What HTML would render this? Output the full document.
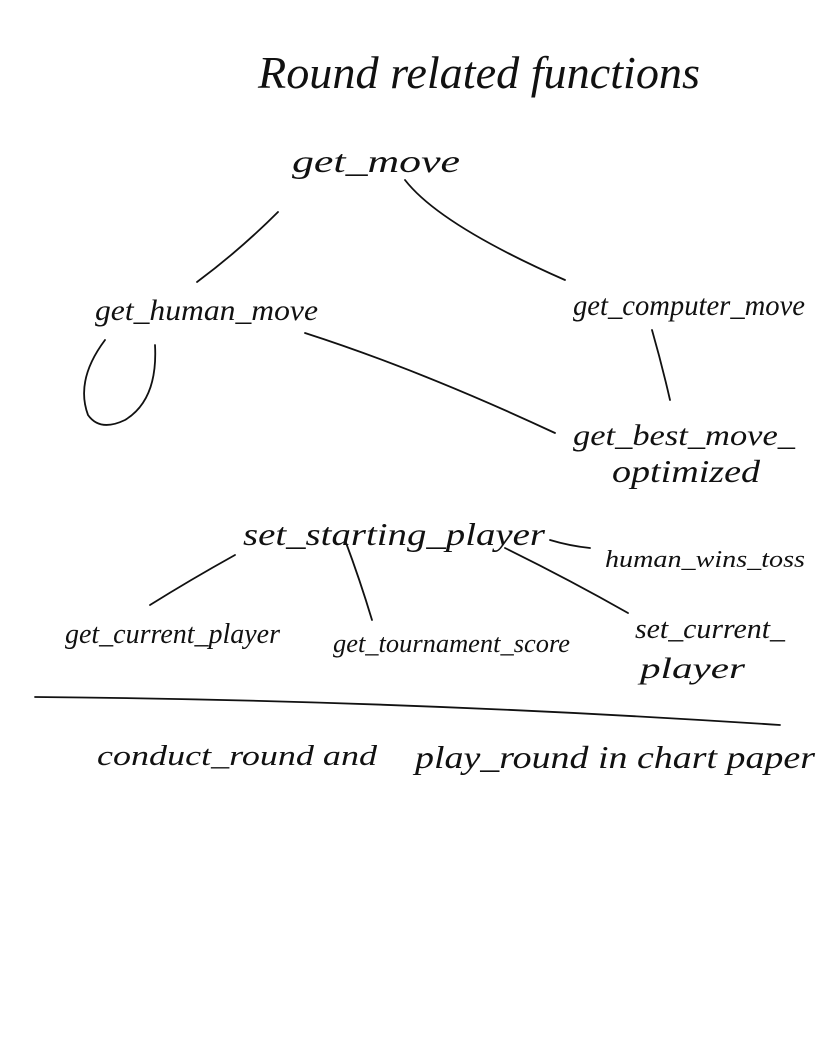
<!DOCTYPE html>
<html><head><meta charset="utf-8"><style>
html,body{margin:0;padding:0;background:#fff;}
svg{display:block;}
text{font-family:"Liberation Serif",serif;font-style:italic;fill:#111;}
</style></head><body>
<svg width="817" height="1056" viewBox="0 0 817 1056" xmlns="http://www.w3.org/2000/svg">
<g fill="none" stroke="#111" stroke-width="1.8" stroke-linecap="round">
<path d="M278 212 Q240 250 197 282"/>
<path d="M405 180 Q440 225 565 280"/>
<path d="M652 330 Q662 365 670 400"/>
<path d="M305 333 Q420 370 555 433"/>
<path d="M105 340 Q75 380 88 415 Q100 432 125 420 Q158 400 155 345"/>
<path d="M235 555 Q190 580 150 605"/>
<path d="M345 540 Q360 580 372 620"/>
<path d="M505 548 Q570 580 628 613"/>
<path d="M550 540 Q570 546 590 548"/>
<path d="M35 697 Q400 700 780 725"/>
</g>
<text x="258" y="88" font-size="46" textLength="442" lengthAdjust="spacingAndGlyphs">Round related functions</text>
<text x="292" y="172" font-size="32" textLength="168" lengthAdjust="spacingAndGlyphs">get_move</text>
<text x="95" y="320" font-size="30" textLength="223" lengthAdjust="spacingAndGlyphs">get_human_move</text>
<text x="573" y="315" font-size="30" textLength="232" lengthAdjust="spacingAndGlyphs">get_computer_move</text>
<text x="573" y="445" font-size="30" textLength="222" lengthAdjust="spacingAndGlyphs">get_best_move_</text>
<text x="612" y="482" font-size="32" textLength="148" lengthAdjust="spacingAndGlyphs">optimized</text>
<text x="243" y="545" font-size="32" textLength="302" lengthAdjust="spacingAndGlyphs">set_starting_player</text>
<text x="605" y="567" font-size="24" textLength="200" lengthAdjust="spacingAndGlyphs">human_wins_toss</text>
<text x="65" y="643" font-size="28" textLength="215" lengthAdjust="spacingAndGlyphs">get_current_player</text>
<text x="333" y="652" font-size="26" textLength="237" lengthAdjust="spacingAndGlyphs">get_tournament_score</text>
<text x="635" y="638" font-size="28" textLength="150" lengthAdjust="spacingAndGlyphs">set_current_</text>
<text x="640" y="678" font-size="30" textLength="105" lengthAdjust="spacingAndGlyphs">player</text>
<text x="97" y="765" font-size="28" textLength="280" lengthAdjust="spacingAndGlyphs">conduct_round and</text>
<text x="415" y="768" font-size="32" textLength="400" lengthAdjust="spacingAndGlyphs">play_round in chart paper</text>
</svg>
</body></html>
